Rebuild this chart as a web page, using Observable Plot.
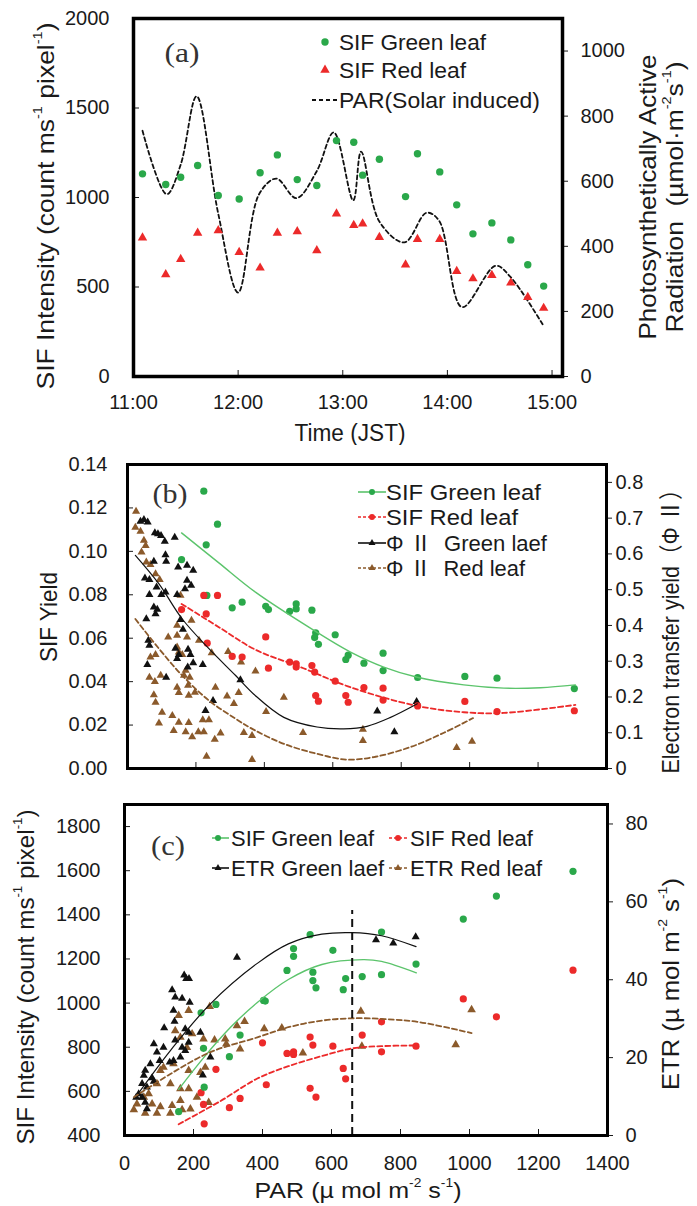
<!DOCTYPE html>
<html><head><meta charset="utf-8">
<script src="https://cdn.jsdelivr.net/npm/d3@7"></script>
<script src="https://cdn.jsdelivr.net/npm/@observablehq/plot@0.6"></script>
<style>
body{margin:0;background:#fff;}
#wrap{position:relative;width:697px;height:1206px;overflow:hidden;background:#fff;}
</style></head><body><div id="wrap"></div><script>
// ---------------- Panel (a) data ----------------
const timesA = [11.086,11.308,11.451,11.613,11.81,12.01,12.21,12.375,12.565,12.752,12.94,13.105,13.19,13.35,13.6,13.714,13.927,14.089,14.244,14.425,14.606,14.768,14.92];
const sifGreenA = [1132,1073,1113,1179,1011,992,1138,1238,1100,1067,1318,1309,1125,1214,1005,1244,1143,959,797,858,763,624,505];
const sifRedA = [775,570,655,802,816,694,607,802,810,704,909,845,853,778,624,767,767,588,547,566,523,443,382];
const parTimesA = [11.086,11.317,11.45,11.603,11.81,12.0,12.2,12.365,12.556,12.75,12.914,13.1,13.175,13.35,13.59,13.8,13.92,14.14,14.46,14.6,14.92];
const parValuesA = [755,560,650,861,500,258,560,608,548,630,750,541,691,476,412,503,479,213,340,307,155];
const timeTicksA = [11,12,13,14,15];
const sifTicksA = [0,500,1000,1500,2000];
const parTicksA = [0,200,400,600,800,1000];

// ---------------- Panel (b) data ----------------
const greenParB = [223,263,230,158,232,335,306,404,412,474,493,493,539,550,547,558,607,645,638,691,747,747,848,986,1080,1306];
const yieldGreenB = [0.1277,0.1125,0.1030,0.0962,0.0797,0.0766,0.0740,0.0747,0.0732,0.0724,0.0758,0.0735,0.0729,0.0625,0.0603,0.0572,0.0616,0.0522,0.0502,0.0485,0.0531,0.0451,0.0419,0.0424,0.0416,0.0368];
const redParB = [223,263,158,230,233,306,335,404,412,474,493,493,539,547,607,550,558,638,645,691,747,747,848,986,1080,1306];
const yieldRedB = [0.0797,0.0797,0.0732,0.0712,0.0577,0.0516,0.0513,0.0606,0.0462,0.0490,0.0482,0.0467,0.0474,0.0444,0.0402,0.0336,0.0310,0.0336,0.0305,0.0373,0.0370,0.0315,0.0288,0.0309,0.0262,0.0266];
const phiGreenParB = [38,48,59,80,89,98,109,138,111,113,77,51,64,85,111,99,64,77,87,82,148,174,192,174,168,186,145,155,162,55,61,64,140,150,145,177,184,192,176,58,113,220,250,228,330,730,780,845];
const phiGreenB = [0.691,0.696,0.689,0.659,0.656,0.651,0.635,0.646,0.597,0.579,0.579,0.532,0.528,0.507,0.493,0.486,0.486,0.451,0.445,0.432,0.563,0.568,0.554,0.526,0.502,0.512,0.486,0.416,0.389,0.418,0.358,0.344,0.336,0.318,0.307,0.333,0.318,0.295,0.283,0.290,0.255,0.290,0.190,0.162,0.248,0.160,0.102,0.187];
const phiRedParB = [25,23,38,48,53,41,55,67,82,94,155,187,145,119,145,174,209,246,145,150,160,67,82,64,97,80,170,165,182,177,145,150,197,179,77,82,257,291,311,325,101,131,92,150,179,135,170,189,207,223,220,238,255,272,340,231,364,294,332,374,457,405,513,688,688,962,1007,364];
const phiRedB = [0.719,0.674,0.663,0.638,0.623,0.605,0.577,0.570,0.544,0.528,0.484,0.414,0.400,0.367,0.372,0.367,0.358,0.323,0.339,0.325,0.318,0.311,0.318,0.255,0.260,0.243,0.274,0.260,0.255,0.232,0.227,0.212,0.213,0.204,0.206,0.185,0.227,0.202,0.181,0.212,0.157,0.148,0.127,0.129,0.128,0.106,0.102,0.088,0.102,0.102,0.136,0.136,0.081,0.099,0.100,0.034,0.025,0.327,0.297,0.272,0.199,0.159,0.100,0.109,0.078,0.058,0.076,0.092];
// fitted trend curves
const fitGreenParB = [158,267,374,545,652,749,847,983,1100,1207,1309];
const fitGreenB = [0.1085,0.0947,0.0812,0.0636,0.0536,0.0467,0.0420,0.0385,0.0370,0.0372,0.0385];
const fitRedParB = [158,267,374,506,652,847,983,1100,1309];
const fitRedB = [0.0758,0.0651,0.0547,0.0467,0.0374,0.0288,0.0259,0.0256,0.0293];
const fitPhiGreenParB = [23,92,160,238,316,370,457,554,632,700,769,847];
const fitPhiGreenB = [0.596,0.516,0.418,0.335,0.260,0.207,0.143,0.116,0.111,0.118,0.143,0.181];
const fitPhiRedParB = [23,92,160,238,316,370,457,554,640,720,827,925,1010];
const fitPhiRedB = [0.418,0.335,0.260,0.190,0.139,0.108,0.069,0.041,0.025,0.032,0.060,0.100,0.141];
const yieldTicksB = [0,0.02,0.04,0.06,0.08,0.10,0.12,0.14];
const phiTicksB = [0,0.1,0.2,0.3,0.4,0.5,0.6,0.7,0.8];
const parTicksB = [200,400,600,800,1000,1200];

// ---------------- Panel (c) data ----------------
const sifGreenParC = [1300,1078,982,745,538,490,490,604,845,471,546,546,555,641,634,689,745,408,403,265,222,229,304,335,231,157];
const sifGreenC = [1597,1485,1381,1322,1310,1247,1212,1239,1177,1148,1140,1102,1069,1111,1061,1120,1129,1009,1012,994,956,795,757,855,619,508];
const sifRedParC = [1300,982,1078,745,689,538,546,604,845,745,471,490,490,400,634,641,538,555,411,265,222,229,304,335,231];
const sifRedC = [1149,1019,938,915,855,846,810,805,805,779,772,779,767,820,704,657,614,574,630,700,594,541,526,568,453];
const etrGreenParC = [729,779,844,326,173,179,187,138,147,167,189,115,142,176,186,220,147,167,186,176,162,142,113,131,85,94,102,75,60,56,80,51,65,85,41,51,34,60,65,249,227,145];
const etrGreenC = [50.2,49.4,51.0,45.7,41.2,40.3,40.3,37.4,35.5,35.2,34.2,27.6,32.1,27.4,26.5,26.5,24.5,22.6,23.9,21.8,20.1,19.2,22.6,18.8,23.5,21.4,19.2,18.4,16.7,15.4,14.8,13.3,12.4,13.9,10.7,9.8,9.8,8.5,6.8,20.1,15.5,29.3];
const etrRedParC = [685,1006,405,456,517,688,960,157,186,247,348,326,292,295,261,335,234,220,186,142,113,133,162,186,210,244,27,36,56,70,80,60,94,104,133,138,167,162,191,181,147,162,196,104,94,229];
const etrRedC = [31.9,32.3,27.4,27.6,21.2,22.9,23.3,30.8,32.1,33.1,29.3,28.2,24.8,23.5,24.5,22.2,17.5,16.2,16.7,18.4,17.5,13.3,12.0,12.0,9.8,8.5,6.6,8.1,9.8,10.7,8.1,5.7,5.7,7.4,5.7,7.7,6.6,9.0,6.8,22.6,26.9,25.2,26.1,16.7,13.3,24.8];
const fitEtrGreenParC = [32,133,249,385,475,572,659,745,845];
const fitEtrGreenC = [9.8,21.8,33.8,44.2,49.2,51.7,52.1,51.3,48.5];
const fitSifGreenParC = [157,229,306,385,475,572,692,745,846];
const fitSifGreenC = [609,752,888,1003,1107,1175,1197,1189,1137];
const fitSifRedParC = [157,278,385,475,572,662,745,846];
const fitSifRedC = [451,556,658,714,760,795,805,808];
const fitEtrRedParC = [27,133,249,385,475,572,662,755,855,1006];
const fitEtrRedC = [9.8,15.8,21.4,25.2,27.8,29.5,30.1,29.9,29.1,26.3];
const optimumParC = [660];
const optimumTopC = [1420];
const parTicksC = [0,200,400,600,800,1000,1200,1400];
const parInnerTicksC = [200,400,600,800,1000,1200];
const sifTicksC = [400,600,800,1000,1200,1400,1600,1800];
const etrTicksC = [0,20,40,60,80];

// ---------------- styling ----------------
const SANS = "'Liberation Sans', Arial, Helvetica, sans-serif";
const SERIF = "'Liberation Serif', 'Times New Roman', serif";
const INK = "#1a1a1a";
const GREEN = "#2aa84a", LGREEN = "#5cc46c", RED = "#ec2a2a", BROWN = "#8b5a2b", BLACK = "#111";
const W = 697;
const base = {width: W, style: {fontFamily: SANS, fontSize: "20px", color: INK, background: "white", overflow: "visible"}};
const zip = (a, b) => a.map((x, i) => ({x, y: b[i]}));
const fmtNum = v => String(+v.toFixed(2));
const plain = d => String(d);

function overlay(draw) {
  return function () { const g = d3.create("svg:g"); draw(g); return g.node(); };
}
function label(g, x, y, parts, o = {}) {
  const size = o.size || 22;
  const t = g.append("text")
    .attr("transform", `translate(${x},${y})${o.rotate ? ` rotate(${o.rotate})` : ""}`)
    .attr("text-anchor", o.anchor || "middle")
    .attr("dominant-baseline", "central")
    .attr("font-family", o.family || SANS)
    .attr("font-size", size)
    .attr("fill", o.fill || INK);
  if (o.len) t.attr("textLength", o.len).attr("lengthAdjust", "spacingAndGlyphs");
  let shifted = false;
  for (const p of [].concat(parts)) {
    const sup = typeof p !== "string";
    const s = t.append("tspan").text(sup ? p[0] : p);
    if (sup) { s.attr("font-size", size * 0.55); if (!shifted) { s.attr("dy", -size * 0.32); shifted = true; } }
    else if (shifted) { s.attr("dy", size * 0.32); shifted = false; }
  }
}
function sym(g, x, y, kind, color, r) {
  if (kind === "dot") g.append("circle").attr("cx", x).attr("cy", y).attr("r", r).attr("fill", color);
  else g.append("path").attr("transform", `translate(${x},${y})`).attr("d", d3.symbol(d3.symbolTriangle, Math.PI * r * r)()).attr("fill", color);
}
function seg(g, x1, x2, y, color, width, dash) {
  g.append("line").attr("x1", x1).attr("x2", x2).attr("y1", y).attr("y2", y)
    .attr("stroke", color).attr("stroke-width", width).attr("stroke-dasharray", dash || null);
}

// ---------------- Panel (a) ----------------
const kA = 2000 / 1100;
const plotA = Plot.plot({
  ...base, height: 445, marginTop: 18, marginBottom: 69, marginLeft: 133, marginRight: 135,
  x: {domain: [11, 15.1], label: null},
  y: {domain: [0, 2000], label: null},
  marks: [
    Plot.line(zip(parTimesA, parValuesA), {x: "x", y: d => d.y * kA, curve: "catmull-rom", stroke: BLACK, strokeWidth: 1.8, strokeDasharray: "4,3"}),
    Plot.dot(zip(timesA, sifGreenA), {x: "x", y: "y", r: 3.7, fill: GREEN}),
    Plot.dot(zip(timesA, sifRedA), {x: "x", y: "y", r: 3.5, symbol: "triangle", fill: RED}),
    Plot.axisY({anchor: "left", ticks: sifTicksA, tickSize: -6, tickFormat: () => "", label: null}),
    Plot.axisY({anchor: "left", ticks: sifTicksA, tickSize: 0, tickPadding: 24, tickFormat: plain, label: null}),
    Plot.axisY({anchor: "right", ticks: parTicksA.map(v => v * kA), tickSize: 5, tickPadding: 13, tickFormat: d => fmtNum(d / kA), label: null}),
    Plot.axisX({ticks: timeTicksA, tickSize: -6, tickFormat: () => "", label: null}),
    Plot.axisX({ticks: timeTicksA, tickSize: 0, tickPadding: 18, tickFormat: d => `${d}:00`, label: null}),
    Plot.frame({stroke: "black", strokeWidth: 3.5}),
    overlay(g => {
      label(g, 182, 52, "(a)", {family: SERIF, size: 28, len: 35, fill: "#333"});
      sym(g, 325, 42, "dot", GREEN, 3.7);
      label(g, 339, 42, "SIF Green leaf", {anchor: "start", len: 147});
      sym(g, 325, 70, "tri", RED, 3.5);
      label(g, 339, 70, "SIF Red leaf", {anchor: "start", len: 127});
      seg(g, 312, 338, 100, BLACK, 1.8, "4,3");
      label(g, 339, 100, "PAR(Solar induced)", {anchor: "start", len: 201});
      label(g, 45, 206, ["SIF Intensity (count ms", ["-1"], " pixel", ["-1"], ")"], {rotate: -90, size: 24, len: 367});
      label(g, 647, 197, "Photosynthetically Active", {rotate: -90, size: 24, len: 285});
      label(g, 674, 197, ["Radiation  (µmol·m", ["-2"], "s", ["-1"], ")"], {rotate: -90, size: 24, len: 271});
      label(g, 350, 433, "Time (JST)", {size: 23, len: 111});
    })
  ]
});

// ---------------- Panel (b) ----------------
const kB = 0.14 / 0.85;
const plotB = Plot.plot({
  ...base, height: 340, marginTop: 19, marginBottom: 17, marginLeft: 127, marginRight: 91,
  x: {domain: [0, 1400], label: null},
  y: {domain: [0, 0.14], label: null},
  marks: [
    Plot.dot(zip(phiRedParB, phiRedB), {x: "x", y: d => d.y * kB, r: 3, symbol: "triangle", fill: BROWN}),
    Plot.dot(zip(phiGreenParB, phiGreenB), {x: "x", y: d => d.y * kB, r: 3, symbol: "triangle", fill: BLACK}),
    Plot.dot(zip(greenParB, yieldGreenB), {x: "x", y: "y", r: 3.6, fill: GREEN}),
    Plot.dot(zip(redParB, yieldRedB), {x: "x", y: "y", r: 3.6, fill: RED}),
    Plot.line(zip(fitGreenParB, fitGreenB), {x: "x", y: "y", curve: "catmull-rom", stroke: LGREEN, strokeWidth: 1.4}),
    Plot.line(zip(fitRedParB, fitRedB), {x: "x", y: "y", curve: "catmull-rom", stroke: RED, strokeWidth: 1.8, strokeDasharray: "5,3"}),
    Plot.line(zip(fitPhiGreenParB, fitPhiGreenB), {x: "x", y: d => d.y * kB, curve: "catmull-rom", stroke: BLACK, strokeWidth: 1.2}),
    Plot.line(zip(fitPhiRedParB, fitPhiRedB), {x: "x", y: d => d.y * kB, curve: "catmull-rom", stroke: BROWN, strokeWidth: 1.8, strokeDasharray: "5,3"}),
    Plot.axisY({anchor: "left", ticks: yieldTicksB, tickSize: -6, tickFormat: () => "", label: null}),
    Plot.axisY({anchor: "left", ticks: yieldTicksB, tickSize: 0, tickPadding: 20, tickFormat: d3.format(".2f"), label: null}),
    Plot.axisY({anchor: "right", ticks: phiTicksB.map(v => v * kB), tickSize: 5, tickPadding: 4, tickFormat: d => fmtNum(d / kB), label: null}),
    Plot.axisX({ticks: parTicksB, tickSize: -6, tickFormat: () => "", label: null}),
    Plot.frame({stroke: "black", strokeWidth: 3}),
    overlay(g => {
      label(g, 170, 48, "(b)", {family: SERIF, size: 28, len: 35, fill: "#333"});
      const rows = [
        ["SIF Green leaf", "dot", GREEN, LGREEN, null, 155],
        ["SIF Red leaf", "dot", RED, RED, "3,2", 132],
        ["Φ Ⅱ  Green laef", "tri", BLACK, BLACK, null, 161],
        ["Φ Ⅱ  Red leaf", "tri", BROWN, BROWN, "3,2", 139]
      ];
      const ys = [47, 72, 98, 123];
      rows.forEach(([t, kind, c, lc, dash, len], i) => {
        seg(g, 358, 386, ys[i], lc, 1.6, dash);
        sym(g, 372, ys[i], kind, c, kind === "dot" ? 3 : 2.6);
        label(g, 386, ys[i], t, {anchor: "start", len, family: SANS + ", 'Noto Sans CJK JP'"});
      });
      label(g, 48, 172, "SIF Yield", {rotate: -90, size: 24, len: 90});
      label(g, 670, 181, "Electron transfer yield（Φ Ⅱ）", {rotate: -90, size: 24, len: 295, family: SANS + ", 'Noto Sans CJK JP'"});
    })
  ]
});

// ---------------- Panel (c) ----------------
const kC = 1500 / 85;
const etrToSif = v => 400 + v * kC;
const plotC = Plot.plot({
  ...base, height: 421, marginTop: 19, marginBottom: 71, marginLeft: 124, marginRight: 90,
  x: {domain: [0, 1400], label: null},
  y: {domain: [400, 1900], label: null},
  marks: [
    Plot.dot(zip(etrRedParC, etrRedC), {x: "x", y: d => etrToSif(d.y), r: 3.2, symbol: "triangle", fill: BROWN}),
    Plot.dot(zip(etrGreenParC, etrGreenC), {x: "x", y: d => etrToSif(d.y), r: 3, symbol: "triangle", fill: BLACK}),
    Plot.dot(zip(sifRedParC, sifRedC), {x: "x", y: "y", r: 3.6, fill: RED}),
    Plot.dot(zip(sifGreenParC, sifGreenC), {x: "x", y: "y", r: 3.6, fill: GREEN}),
    Plot.line(zip(fitEtrGreenParC, fitEtrGreenC), {x: "x", y: d => etrToSif(d.y), curve: "catmull-rom", stroke: BLACK, strokeWidth: 1.2}),
    Plot.line(zip(fitSifGreenParC, fitSifGreenC), {x: "x", y: "y", curve: "catmull-rom", stroke: LGREEN, strokeWidth: 1.4}),
    Plot.line(zip(fitSifRedParC, fitSifRedC), {x: "x", y: "y", curve: "catmull-rom", stroke: RED, strokeWidth: 1.8, strokeDasharray: "5,3"}),
    Plot.line(zip(fitEtrRedParC, fitEtrRedC), {x: "x", y: d => etrToSif(d.y), curve: "catmull-rom", stroke: BROWN, strokeWidth: 1.8, strokeDasharray: "5,3"}),
    Plot.ruleX(optimumParC, {x: d => d, y1: 400, y2: (d, i) => optimumTopC[i], stroke: BLACK, strokeWidth: 2, strokeDasharray: "8,5"}),
    Plot.axisY({anchor: "left", ticks: sifTicksC, tickSize: -6, tickFormat: () => "", label: null}),
    Plot.axisY({anchor: "left", ticks: sifTicksC, tickSize: 0, tickPadding: 24, tickFormat: plain, label: null}),
    Plot.axisY({anchor: "right", ticks: etrTicksC.map(etrToSif), tickSize: 5, tickPadding: 13, tickFormat: d => fmtNum((d - 400) / kC), label: null}),
    Plot.axisX({ticks: parInnerTicksC, tickSize: -6, tickFormat: () => "", label: null}),
    Plot.axisX({ticks: parTicksC, tickSize: 0, tickPadding: 20, tickFormat: plain, label: null}),
    Plot.frame({stroke: "black", strokeWidth: 3}),
    overlay(g => {
      label(g, 168, 60, "(c)", {family: SERIF, size: 28, len: 34, fill: "#333"});
      const rows = [
        [212, 229, 218, 231, 53, "SIF Green leaf", "dot", GREEN, LGREEN, null, 143],
        [389, 408, 398, 410, 53, "SIF Red leaf", "dot", RED, RED, "3,2", 123],
        [212, 229, 218, 231, 83, "ETR Green laef", "tri", BLACK, BLACK, null, 153],
        [389, 408, 398, 410, 83, "ETR Red leaf", "tri", BROWN, BROWN, "3,2", 132]
      ];
      rows.forEach(([x1, x2, xm, xt, y, t, kind, c, lc, dash, len]) => {
        seg(g, x1, x2, y, lc, 1.6, dash);
        sym(g, xm, y, kind, c, kind === "dot" ? 3 : 2.6);
        label(g, xt, y, t, {anchor: "start", len});
      });
      label(g, 25, 192, ["SIF Intensity (count ms", ["-1"], " pixel", ["-1"], ")"], {rotate: -90, size: 24, len: 335});
      label(g, 670, 199, ["ETR (µ mol m", ["-2"], " s", ["-1"], ")"], {rotate: -90, size: 24, len: 212});
      label(g, 358, 405, ["PAR (µ mol m", ["-2"], " s", ["-1"], ")"], {size: 22, len: 207});
    })
  ]
});

const wrap = document.getElementById("wrap");
[[plotA, 0], [plotB, 445], [plotC, 785]].forEach(([p, top]) => {
  p.style.position = "absolute"; p.style.left = "0px"; p.style.top = top + "px";
  wrap.appendChild(p);
});
</script></body></html>
